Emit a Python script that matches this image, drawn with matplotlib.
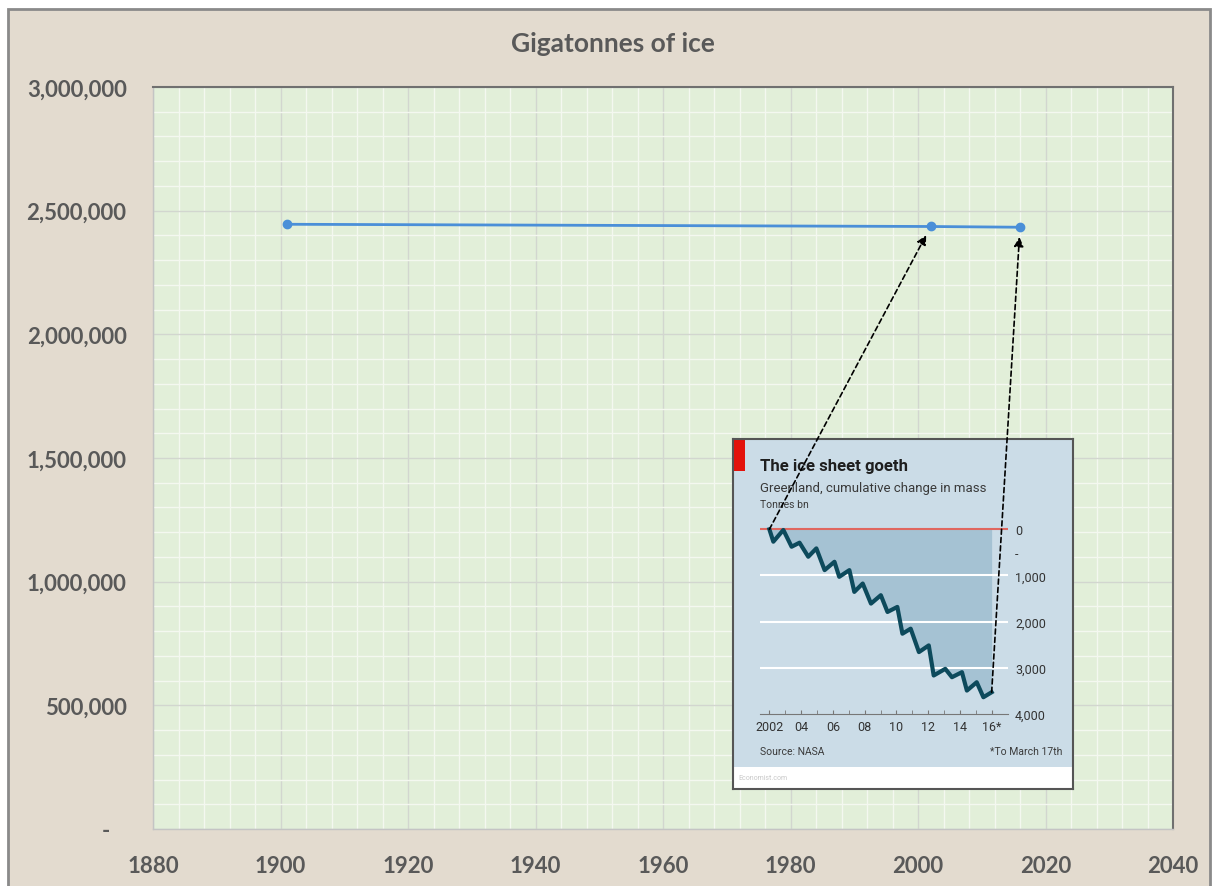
import matplotlib
matplotlib.use("Agg")
import matplotlib.pyplot as plt
from matplotlib.patches import Rectangle, ConnectionPatch
from matplotlib.ticker import MultipleLocator, FuncFormatter

# main chart data
years = [1901, 2002, 2016]
ice_gt = [2445000, 2436000, 2433000]

# inset (Economist chart) data, cumulative change in mass, tonnes bn
inset_years = [2002.0, 2002.25, 2002.88, 2003.4, 2003.9, 2004.45, 2004.96, 2005.48,
               2006.1, 2006.4, 2007.04, 2007.35, 2007.88, 2008.4, 2009.02, 2009.44,
               2010.06, 2010.38, 2010.9, 2011.42, 2012.04, 2012.35, 2013.08, 2013.5,
               2014.13, 2014.44, 2015.06, 2015.48, 2016.0]
inset_mass = [0, -268, -14, -377, -290, -594, -413, -884,
              -703, -1029, -884, -1355, -1174, -1609, -1427, -1790,
              -1681, -2261, -2152, -2659, -2514, -3166, -3022, -3203,
              -3094, -3493, -3312, -3637, -3529]
inset_yticks = [0, -500, -1000, -2000, -3000, -4000]
inset_ylabels = ["0", "-", "1,000", "2,000", "3,000", "4,000"]
inset_xlabels = ["2002", "04", "06", "08", "10", "12", "14", "16*"]

W, H = 1214, 887
fig = plt.figure(figsize=(W / 100, H / 100), dpi=100)
fig.patch.set_facecolor("white")

def fx(px):
    return px / W

def fy(py):
    return 1 - py / H

# beige card with border
fig.add_artist(Rectangle((fx(8), -0.01), fx(1202), fy(10) + 0.01,
                         transform=fig.transFigure, facecolor="#e3dbcf",
                         edgecolor="#8a8a8a", lw=2, zorder=-10))

grey = "#595959"
font = "Lato"

ax = fig.add_axes([fx(153), fy(830), fx(1020), (830 - 88) / H])
ax.set_facecolor("#e2efd9")
ax.plot(years, ice_gt, color="#4a8fd8", lw=2, marker="o", ms=6, zorder=3)
ax.set_xlim(1880, 2040)
ax.set_ylim(0, 3000000)
ax.xaxis.set_major_locator(MultipleLocator(20))
ax.xaxis.set_minor_locator(MultipleLocator(4))
ax.yaxis.set_major_locator(MultipleLocator(500000))
ax.yaxis.set_minor_locator(MultipleLocator(100000))
ax.grid(which="minor", color="#f4f8f0", lw=1)
ax.grid(which="major", color="#d2d6cf", lw=1)
ax.set_axisbelow(True)
ax.yaxis.set_major_formatter(FuncFormatter(lambda v, p: "-   " if v == 0 else f"{int(v):,}"))
ax.tick_params(which="both", length=0)
ax.tick_params(axis="y", pad=19, labelsize=16, labelcolor=grey)
ax.tick_params(axis="x", pad=19, labelsize=16, labelcolor=grey)
for lab in ax.get_xticklabels() + ax.get_yticklabels():
    lab.set_fontfamily(font)
    lab.set_fontweight("bold")
for s in ["top", "right"]:
    ax.spines[s].set_color("#707070")
    ax.spines[s].set_linewidth(1.5)
for s in ["left", "bottom"]:
    ax.spines[s].set_color("#c4c4c4")
    ax.spines[s].set_linewidth(1)

fig.text(fx(613), fy(44), "Gigatonnes of ice", ha="center", va="center",
         fontsize=19, fontweight="bold", color=grey, fontfamily=font)

# inset box
box = fig.add_axes([fx(733), fy(790), fx(340), 350 / H])
box.set_facecolor("#cbdce7")
box.set_xlim(0, 1)
box.set_ylim(0, 1)
box.set_xticks([])
box.set_yticks([])
for s in box.spines.values():
    s.set_color("#555555")
    s.set_linewidth(1.5)
box.add_patch(Rectangle((0, 0), 1, 0.063, facecolor="white", edgecolor="none"))
box.add_patch(Rectangle((0, 0.909), 0.035, 0.091, facecolor="#e3120b", edgecolor="none"))
ifont = "Roboto"
box.text(0.079, 0.923, "The ice sheet goeth", fontsize=12, fontweight="bold",
         color="#1e1e1e", va="center", fontfamily=ifont)
box.text(0.079, 0.862, "Greenland, cumulative change in mass", fontsize=9.5,
         color="#3a3a3a", va="center", fontfamily=ifont)
box.text(0.079, 0.813, "Tonnes bn", fontsize=7.5, color="#3a3a3a", va="center", fontfamily=ifont)
box.text(0.079, 0.109, "Source: NASA", fontsize=7.5, color="#3a3a3a", va="center", fontfamily=ifont)
box.text(0.968, 0.109, "*To March 17th", fontsize=7.5, color="#3a3a3a", va="center",
         ha="right", fontfamily=ifont)
box.text(0.015, 0.034, "Economist.com", fontsize=5, color="#c8c8c8", va="center", fontfamily=ifont)

ins = fig.add_axes([fx(760), fy(715), fx(248), 190 / H])
ins.patch.set_visible(False)
ins.set_xlim(2001.41, 2017.03)
ins.set_ylim(-4000, 115)
ins.fill_between(inset_years, inset_mass, 0, color="#a5c2d3", lw=0)
for g in [-1000, -2000, -3000]:
    ins.axhline(g, color="white", lw=1.5, zorder=1)
ins.axhline(0, color="#e0675f", lw=1.5, zorder=2)
ins.plot(inset_years, inset_mass, color="#0d4a5c", lw=3, solid_joinstyle="round", zorder=3)
ins.yaxis.tick_right()
ins.set_yticks(inset_yticks)
ins.set_yticklabels(inset_ylabels)
ins.set_xticks(range(2002, 2017, 2))
ins.set_xticklabels(inset_xlabels)
ins.set_xticks(range(2002, 2017), minor=True)
ins.tick_params(axis="y", length=0, pad=5, labelsize=9, labelcolor="#333333")
ins.tick_params(axis="x", which="both", direction="in", length=3, color="#777777",
                pad=4, labelsize=9, labelcolor="#333333")
for lab in ins.get_xticklabels() + ins.get_yticklabels():
    lab.set_fontfamily(ifont)
for s in ["top", "left", "right"]:
    ins.spines[s].set_visible(False)
ins.spines["bottom"].set_color("#777777")

# dashed arrows linking inset to main chart
for (xa, ya), (xb, yb) in [((inset_years[0], inset_mass[0]), (years[1], ice_gt[1])),
                           ((inset_years[-1], inset_mass[-1]), (years[2], ice_gt[2]))]:
    con = ConnectionPatch(xyA=(xa, ya), coordsA=ins.transData,
                          xyB=(xb, yb), coordsB=ax.transData,
                          arrowstyle="-|>", linestyle=(0, (3, 2)), lw=1.2,
                          color="black", mutation_scale=14, shrinkA=0, shrinkB=7)
    fig.add_artist(con)

fig.savefig("out.png", dpi=100)
